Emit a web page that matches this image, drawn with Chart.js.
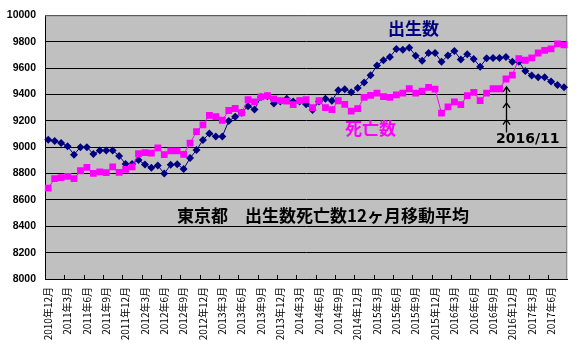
<!DOCTYPE html>
<html><head><meta charset="utf-8">
<script src="https://cdn.jsdelivr.net/npm/chart.js@4/dist/chart.umd.min.js"></script>
<style>html,body{margin:0;padding:0;background:#fff}#wrap{width:584px;height:354px}</style>
</head><body><div id="wrap"><canvas id="c" width="584" height="354"></canvas></div>
<script>
const categories = [
'2010年12月',
'2011年1月','2011年2月','2011年3月','2011年4月','2011年5月','2011年6月','2011年7月','2011年8月','2011年9月','2011年10月','2011年11月','2011年12月',
'2012年1月','2012年2月','2012年3月','2012年4月','2012年5月','2012年6月','2012年7月','2012年8月','2012年9月','2012年10月','2012年11月','2012年12月',
'2013年1月','2013年2月','2013年3月','2013年4月','2013年5月','2013年6月','2013年7月','2013年8月','2013年9月','2013年10月','2013年11月','2013年12月',
'2014年1月','2014年2月','2014年3月','2014年4月','2014年5月','2014年6月','2014年7月','2014年8月','2014年9月','2014年10月','2014年11月','2014年12月',
'2015年1月','2015年2月','2015年3月','2015年4月','2015年5月','2015年6月','2015年7月','2015年8月','2015年9月','2015年10月','2015年11月','2015年12月',
'2016年1月','2016年2月','2016年3月','2016年4月','2016年5月','2016年6月','2016年7月','2016年8月','2016年9月','2016年10月','2016年11月','2016年12月',
'2017年1月','2017年2月','2017年3月','2017年4月','2017年5月','2017年6月','2017年7月','2017年8月'
];
const tickLabels = [
'2010年12月','2011年3月','2011年6月','2011年9月','2011年12月','2012年3月','2012年6月','2012年9月','2012年12月',
'2013年3月','2013年6月','2013年9月','2013年12月','2014年3月','2014年6月','2014年9月','2014年12月',
'2015年3月','2015年6月','2015年9月','2015年12月','2016年3月','2016年6月','2016年9月','2016年12月','2017年3月','2017年6月'
];
const births = [
9057,9047,9032,9007,8943,9000,9000,8948,8975,8975,8975,8933,8873,
8873,8903,8868,8843,8860,8800,8866,8871,8834,8918,8978,9054,
9104,9081,9081,9199,9230,9261,9311,9286,9381,9386,9331,9346,
9368,9346,9346,9326,9281,9346,9368,9351,9431,9440,9416,9448,
9490,9545,9619,9659,9684,9744,9739,9754,9694,9655,9714,9714,
9647,9696,9729,9664,9704,9669,9610,9674,9677,9677,9684,9647,
9647,9577,9543,9530,9530,9498,9472,9455
];
const deaths = [
8689,8761,8769,8778,8761,8821,8846,8801,8813,8806,8851,8808,8831,
8851,8950,8958,8955,8995,8943,8972,8972,8946,9030,9117,9169,
9241,9231,9204,9278,9293,9261,9361,9343,9381,9390,9366,9353,
9349,9323,9353,9361,9300,9352,9300,9284,9352,9325,9273,9292,
9377,9393,9410,9383,9378,9396,9410,9443,9410,9425,9453,9440,
9258,9306,9343,9323,9390,9416,9353,9410,9443,9443,9517,9547,
9672,9659,9677,9714,9734,9746,9784,9776
];
const yMin = 8000, yMax = 10000, yStep = 200;
const birthName = '出生数';
const deathName = '死亡数';
const chartTitle = '東京都　出生数死亡数12ヶ月移動平均';
const markerText = '2016/11';
const markerCategory = '2016年11月';

const deco = {
  id: 'deco',
  beforeDraw(chart) {
    const {ctx, chartArea: a} = chart;
    ctx.save();
    ctx.fillStyle = '#fff';
    ctx.fillRect(0, 0, chart.width, chart.height);
    ctx.fillStyle = '#C0C0C0';
    ctx.fillRect(a.left, a.top, a.right - a.left, a.bottom - a.top);
    ctx.restore();
  },
  beforeDatasetsDraw(chart) {
    const {ctx, chartArea: a} = chart;
    const xs = chart.scales.x;
    ctx.save();
    ctx.strokeStyle = '#808080';
    ctx.lineWidth = 1;
    ctx.beginPath();
    ctx.moveTo(a.left, a.top + 0.5); ctx.lineTo(a.right - 0.5, a.top + 0.5); ctx.lineTo(a.right - 0.5, a.bottom);
    ctx.stroke();
    const w = (a.right - a.left) / categories.length;
    ctx.strokeStyle = '#000';
    ctx.beginPath();
    for (let k = 3; k < categories.length; k += 3) {
      const x = Math.round(xs.getPixelForValue(k) - w / 2) + 0.5;
      ctx.moveTo(x, a.bottom); ctx.lineTo(x, a.bottom - 4);
    }
    ctx.stroke();
    ctx.restore();
  },
  afterDatasetsDraw(chart) {
    const {ctx} = chart;
    const xs = chart.scales.x, ys = chart.scales.y;
    ctx.save();
    ctx.textBaseline = 'middle';
    ctx.textAlign = 'left';
    ctx.font = 'bold 17px "Noto Sans CJK JP"';
    ctx.fillStyle = '#000080';
    ctx.fillText(birthName, 388, 29);
    ctx.fillStyle = '#FF00FF';
    ctx.fillText(deathName, 345, 129);
    ctx.fillStyle = '#000';
    ctx.fillText(chartTitle, 177, 216);
    ctx.font = 'bold 14px "DejaVu Sans"';
    ctx.fillText(markerText, 496, 139);
    const x = Math.round(xs.getPixelForValue(categories.indexOf(markerCategory))) + 0.5;
    ctx.strokeStyle = '#000';
    ctx.lineWidth = 1.3;
    ctx.beginPath();
    ctx.moveTo(x, ys.getPixelForValue(9112));
    ctx.lineTo(x, ys.getPixelForValue(9458));
    [9458, 9336, 9209].forEach(v => {
      const y = ys.getPixelForValue(v);
      ctx.moveTo(x - 3.5, y + 5); ctx.lineTo(x, y); ctx.lineTo(x + 3.5, y + 5);
    });
    ctx.stroke();
    ctx.restore();
  }
};

new Chart(document.getElementById('c'), {
  type: 'line',
  data: {
    labels: categories,
    datasets: [
      {
        label: deathName, data: deaths,
        borderColor: '#FF00FF', backgroundColor: '#FF00FF', borderWidth: 1,
        pointStyle: 'rect', pointRadius: 4.8, pointBorderWidth: 0, pointHoverRadius: 4.8,
        tension: 0, fill: false
      },
      {
        label: birthName, data: births,
        borderColor: '#000080', backgroundColor: '#000080', borderWidth: 1,
        pointStyle: 'rectRot', pointRadius: 4, pointBorderWidth: 0, pointHoverRadius: 4,
        tension: 0, fill: false
      }
    ]
  },
  options: {
    responsive: false,
    animation: false,
    devicePixelRatio: 1,
    layout: {padding: {top: 11, right: 4, left: 0, bottom: 0}},
    plugins: {legend: {display: false}, tooltip: {enabled: false}, title: {display: false}},
    scales: {
      x: {
        type: 'category', offset: true,
        grid: {display: false, drawTicks: false},
        border: {display: true, color: '#000', width: 1},
        ticks: {
          autoSkip: false, maxRotation: 90, minRotation: 90, padding: 8,
          color: '#000', font: {family: '"Noto Sans CJK JP"', size: 10},
          callback: function(v, i) { const l = categories[i]; return tickLabels.includes(l) ? l : ''; }
        },
        afterFit(s) { s.height = 75; }
      },
      y: {
        min: yMin, max: yMax,
        grid: {color: '#000', lineWidth: 1, drawTicks: false},
        border: {display: true, color: '#000', width: 1},
        ticks: {
          stepSize: yStep, padding: 9, color: '#000',
          font: {family: '"Liberation Sans", Arial', size: 10.5, weight: 'bold'},
          callback: v => String(v)
        },
        afterFit(s) { s.width = 45; }
      }
    }
  },
  plugins: [deco]
});
</script>
</body></html>
